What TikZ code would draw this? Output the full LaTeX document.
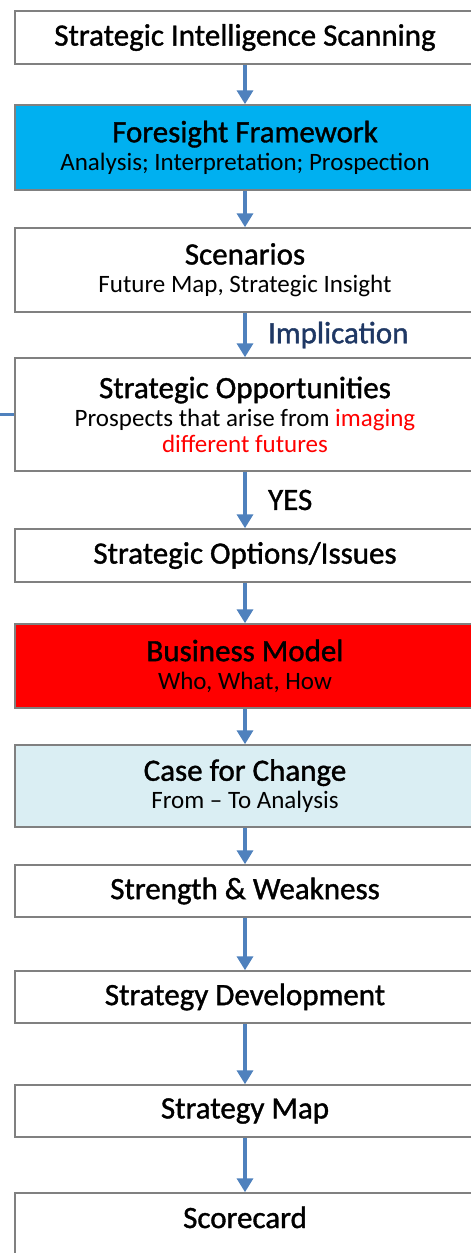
\documentclass[tikz,border=0pt]{standalone}
\usepackage{fontspec}
\usepackage{xcolor}
\usepackage{tikz}
\usetikzlibrary{arrows.meta}
\setmainfont{Carlito}
\newfontfamily\titlefam[FakeBold=1.2]{Carlito}

\definecolor{boxline}{HTML}{808080}
\definecolor{flowblue}{HTML}{4F81BD}
\definecolor{foreblue}{HTML}{00B0F0}
\definecolor{caseblue}{HTML}{DAEEF3}
\definecolor{implblue}{HTML}{1F3864}

\newcommand{\titlefont}{\titlefam\fontsize{31}{30}\selectfont}
\newcommand{\subfont}{\fontsize{25}{26}\selectfont}

\begin{document}
\begin{tikzpicture}[x=1pt, y=-1pt, every text node part/.style={align=center}]
			\tikzstyle{stage} = [draw=boxline, line width=1.5pt, rectangle, minimum width=460pt, inner sep=0pt, font=\subfont]
			\tikzstyle{flow} = [draw=flowblue, line width=3.5pt, -{Triangle[length=14pt, width=16pt]}]
			\useasboundingbox (0, 0) rectangle (471, 1253);
			\clip (0, 0) rectangle (471, 1253);

			\path (245, 37.5) node[stage, minimum height=53pt] (sis) {\titlefont Strategic Intelligence Scanning};
			\path (245, 147.5) node[stage, fill=foreblue, minimum height=85pt] (fore) {{\titlefont Foresight Framework}\\[2pt]Analysis; Interpretation; Prospection};
			\path (245, 270) node[stage, minimum height=84pt] (scen) {{\titlefont Scenarios}\\[2pt]Future Map, Strategic Insight};
			\path (245, 414.5) node[stage, minimum height=113pt] (opp) {{\titlefont Strategic Opportunities}\\[2pt]Prospects that arise from \textcolor{red}{imaging}\\\textcolor{red}{different futures}};
			\path (245, 555.5) node[stage, minimum height=53pt] (opt) {\titlefont Strategic Options/Issues};
			\path (245, 666) node[stage, fill=red, minimum height=84pt] (bm) {{\titlefont Business Model}\\[2pt]Who, What, How};
			\path (245, 786) node[stage, fill=caseblue, minimum height=82pt] (cfc) {{\titlefont Case for Change}\\[2pt]From -- To Analysis};
			\path (245, 891) node[stage, minimum height=52pt] (sw) {\titlefont Strength \& Weakness};
			\path (245, 997) node[stage, minimum height=52pt] (dev) {\titlefont Strategy Development};
			\path (245, 1111) node[stage, minimum height=52pt] (map) {\titlefont Strategy Map};
			\path (245, 1228) node[stage, text height=35pt, text depth=35pt] (card) {\titlefont Scorecard};

			\coordinate (side) at (-5, 414.5);

			\path[flow] (sis) -- (fore);
			\path[flow] (fore) -- (scen);
			\path[flow] (scen) -- node[right=18pt, text=implblue, font=\titlefont] (impl) {Implication} (opp);
			\path[flow] (opp) -- node[right=18pt, font=\titlefont] (yes) {YES} (opt);
			\path[flow] (opt) -- (bm);
			\path[flow] (bm) -- (cfc);
			\path[flow] (cfc) -- (sw);
			\path[flow] (sw) -- (dev);
			\path[flow] (dev) -- (map);
			\path[flow] (map) -- (card);

			\path[draw=flowblue, line width=3pt] (side) -- (opp.west);
		\end{tikzpicture}
\end{document}
